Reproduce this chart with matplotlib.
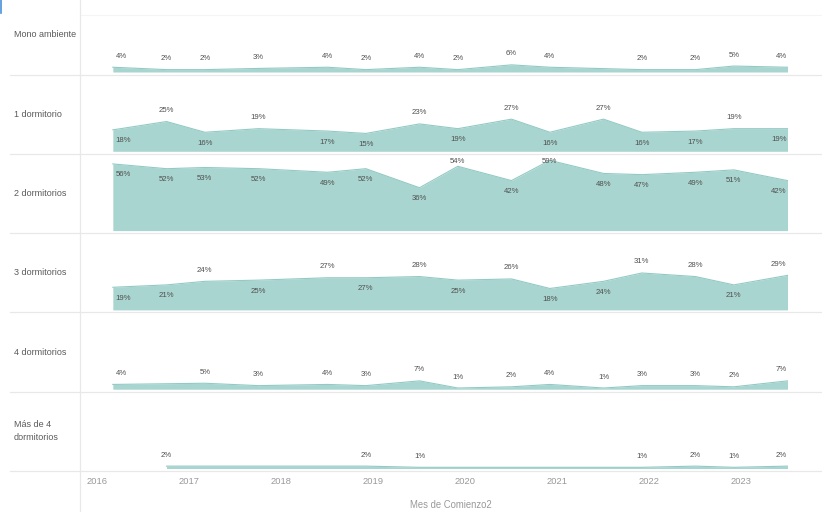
import matplotlib
matplotlib.use("Agg")
import matplotlib.pyplot as plt
from matplotlib.lines import Line2D
from matplotlib import font_manager

# ---- data -----------------------------------------------------------------
months = ["2016-03", "2016-10", "2017-03", "2017-10", "2018-07", "2018-12",
          "2019-07", "2019-12", "2020-07", "2020-12", "2021-07", "2021-12",
          "2022-07", "2022-12", "2023-07"]

categories = ["Mono ambiente", "1 dormitorio", "2 dormitorios",
              "3 dormitorios", "4 dormitorios", "Más de 4\ndormitorios"]

mono_ambiente = [4, 2, 2, 3, 4, 2, 4, 2, 6, 4, None, 2, 2, 5, 4]
un_dormitorio = [18, 25, 16, 19, 17, 15, 23, 19, 27, 16, 27, 16, 17, 19, 19]
dos_dormitorios = [56, 52, 53, 52, 49, 52, 36, 54, 42, 59, 48, 47, 49, 51, 42]
tres_dormitorios = [19, 21, 24, 25, 27, 27, 28, 25, 26, 18, 24, 31, 28, 21, 29]
cuatro_dormitorios = [4, None, 5, 3, 4, 3, 7, 1, 2, 4, 1, 3, 3, 2, 7]
mas_de_cuatro = [None, 2, None, None, None, 2, 1, None, None, None, None, 1, 2, 1, 2]

year_ticks = [2016, 2017, 2018, 2019, 2020, 2021, 2022, 2023]
x_title = "Mes de Comienzo2"

series = [mono_ambiente, un_dormitorio, dos_dormitorios,
          tres_dormitorios, cuatro_dormitorios, mas_de_cuatro]

# label side per point: 'a' above the line, 'b' below it
label_sides = [
    "aaaaaaaaaaaaaaa",
    "bababbabababbab",
    "bbbbbbbababbbbb",
    "bbababababbaaba",
    "aaaaaaaaaaaaaaa",
    "aaaaaaaaaaaaaaa",
]

# ---- styling --------------------------------------------------------------
FILL = "#a9d5d0"
EDGE = "#93cac4"
GRID = "#e8e8e8"

available = {f.name for f in font_manager.fontManager.ttflist}
narrow = "Liberation Sans Narrow" in available
base_font = "Liberation Sans Narrow" if narrow else "Liberation Sans"
plt.rcParams["font.family"] = [base_font, "DejaVu Sans"]
scale = 1.0 if narrow else 0.82

W, H = 822, 512
fig = plt.figure(figsize=(W / 100, H / 100), dpi=100)


def to_year(m):
    y, mo = m.split("-")
    return int(y) + (int(mo) - 1) / 12.0


xs = [to_year(m) for m in months]

# pixel <-> year mapping for the panes
PX0, PXPY = 97.5, 92.0
AX_L, AX_R = 80, 822
x_lo = 2016 + (AX_L - PX0) / PXPY
x_hi = 2016 + (AX_R - PX0) / PXPY

ROW_H = 79.3
BOTTOM = 471.0
Y_LO, Y_HI = -2.1, 64.5

for i, (name, vals, sides) in enumerate(zip(categories, series, label_sides)):
    top_px = BOTTOM - ROW_H * (len(categories) - i)
    ax = fig.add_axes([AX_L / W, 1 - (top_px + ROW_H) / H,
                       (AX_R - AX_L) / W, ROW_H / H])
    ax.set_xlim(x_lo, x_hi)
    ax.set_ylim(Y_LO, Y_HI)
    ax.axis("off")

    idx = [k for k, v in enumerate(vals) if v is not None]
    px = [xs[k] for k in idx]
    pv = [vals[k] for k in idx]
    ax.fill_between(px, 0, pv, color=FILL, linewidth=0)
    ax.plot(px, pv, color=EDGE, linewidth=0.8)

    for x, v, k in zip(px, pv, idx):
        y_from_top = (Y_HI - v) / (Y_HI - Y_LO) * ROW_H
        if sides[k] == "a":
            dy = 11
            if y_from_top - dy < 8:
                dy = y_from_top - 8
        else:
            dy = -11
        ha, dx = "center", 0
        if k == 0:
            ha, dx = "left", 3
        elif k == len(xs) - 1:
            ha, dx = "right", -1
        ax.annotate(f"{v}%", (x, v), xytext=(dx, dy), textcoords="offset pixels",
                    ha=ha, va="center", fontsize=6.8 * scale, color="#4f4f4f")

    # row title
    fig.text(14 / W, 1 - (top_px + ROW_H / 2) / H, name, ha="left", va="center",
             fontsize=7.9 * scale, color="#5a5a5a", linespacing=1.55)

# row separators
for k in range(len(categories)):
    yb = BOTTOM - ROW_H * k
    fig.add_artist(Line2D([10 / W, 1], [1 - yb / H] * 2, color=GRID, lw=0.9))
# faint top rule and vertical divider
fig.add_artist(Line2D([AX_L / W, 1], [1 - 15 / H] * 2, color="#f5f5f5", lw=0.8))
fig.add_artist(Line2D([AX_L / W] * 2, [0, 1], color=GRID, lw=0.9))
# small blue marker at the top-left corner
fig.add_artist(Line2D([1 / W] * 2, [1, 1 - 13 / H], color="#4a90d9", lw=1.2))

# year tick labels
for yr in year_ticks:
    xp = PX0 + PXPY * (yr - 2016)
    fig.text(xp / W, 1 - 482 / H, str(yr), ha="center", va="center",
             fontsize=8.2 * scale, color="#999999")

fig.text((AX_L + AX_R) / 2 / W, 1 - 505 / H, x_title, ha="center", va="center",
         fontsize=8.4 * scale, color="#999999")

fig.savefig("out.png", dpi=100, facecolor="white")
